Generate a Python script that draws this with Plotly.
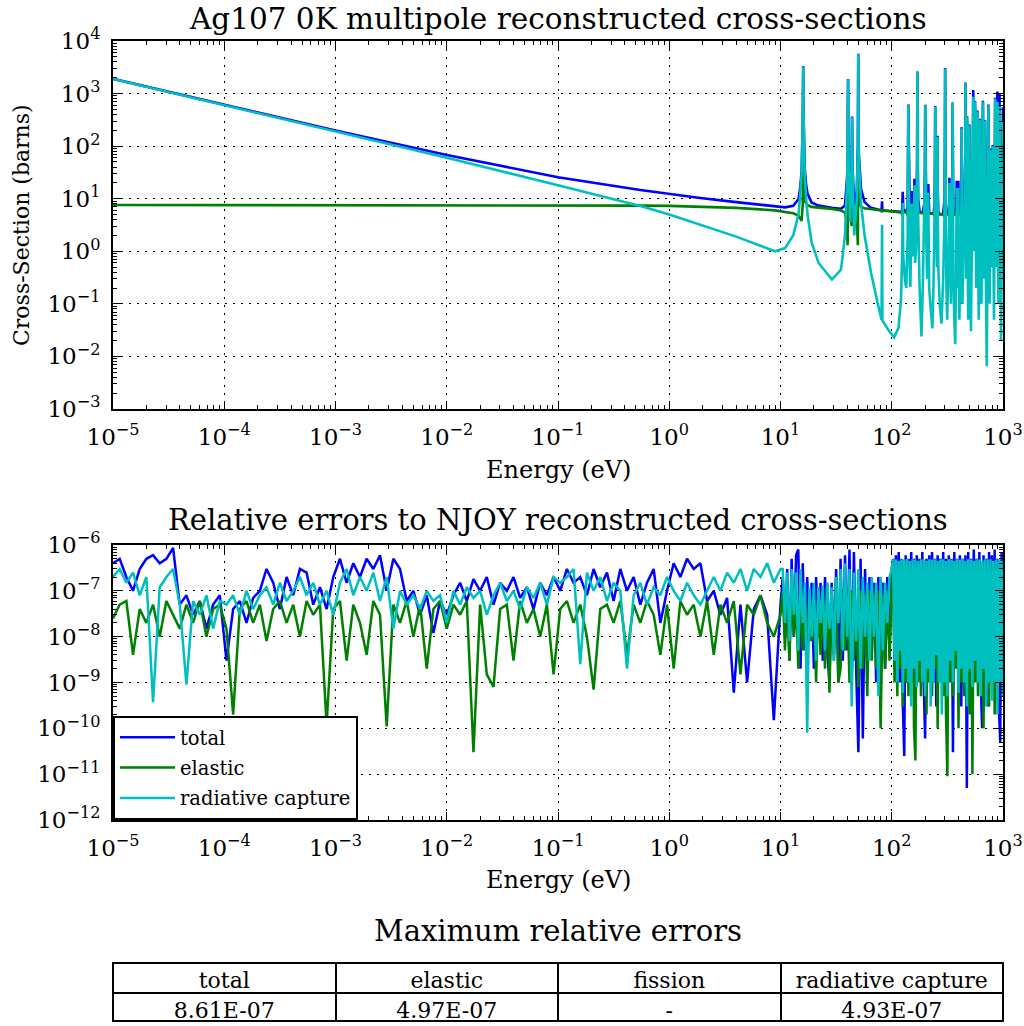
import plotly.graph_objects as go

# ---------------- data: top panel (cross-sections, barns) ----------------
E_TOP = [
    1e-5, 1e-4, 1e-3, 1e-2, 0.1, 0.55, 1.0, 1.9, 4.0, 8.9,
    11, 13, 14.5, 15.0, 15.5, 15.85, 16.0, 16.15, 16.5, 17.0,
    17.5, 19, 22, 29, 35, 38, 39.8, 40.1, 40.5, 40.75,
    41, 42.3, 43.6, 44, 44.5, 46, 48.5, 49.6, 50, 50.25,
    50.6, 53, 57, 65, 75, 81, 81.8, 82.4, 95, 105,
    115, 121, 124, 125.5, 127, 131, 135, 139, 141, 143,
    145, 147, 150, 151, 152.5, 155, 157, 159, 160, 161,
    162, 165, 167, 169, 170, 171, 173, 178, 185, 190,
    196, 198.5, 200, 201.5, 204, 208, 211, 213, 215, 217,
    224, 232, 238, 243, 245, 246, 247, 249, 252, 255,
    257, 258, 259, 262, 270, 280, 290, 298, 300.5, 302,
    303.5, 306, 310, 315, 323, 328, 330, 332, 340, 346,
    350, 352, 353, 354, 358, 365, 372, 379, 384, 387,
    390, 394, 397, 400, 405, 412, 420, 423.5, 425, 426.5,
    432, 440, 446, 450, 458, 460, 462, 467, 471, 475,
    479, 487, 494, 500, 505, 510, 515, 522, 528, 532,
    537, 540, 543, 550, 555, 560, 565, 575, 582, 590,
    597, 605, 612, 620, 628, 640, 650, 660, 668, 675,
    682, 690, 700, 715, 728, 740, 750, 758, 767, 775,
    782, 790, 800, 810, 820, 830, 840, 850, 860, 870,
    880, 890, 900, 910, 920, 930, 945, 960, 980, 1000]

CAPTURE = [
    1900, 600, 190, 60, 18, 7.3, 5.0, 3.2, 1.9, 1.0,
    1.15, 2.0, 5, 11, 30, 300, 3200, 300, 30, 10,
    5, 1.5, 0.6, 0.29, 0.45, 2, 25, 200, 1870, 150,
    40, 3.6, 40, 355, 30, 2.0, 10, 100, 5600, 400,
    60, 8, 2, 0.4, 0.1, 0.05, 3.2, 0.048, 0.03, 0.023,
    0.035, 0.12, 0.8, 8.3, 0.8, 0.3, 0.2, 2, 600, 2,
    0.5, 0.21, 2, 8, 1.5, 0.8, 1, 4, 18, 3,
    0.6, 1, 4, 40, 2600, 40, 4, 0.2, 0.024, 0.2,
    3, 30, 600, 30, 2, 0.3, 2, 13, 1.5, 0.2,
    0.08, 0.034, 0.3, 3, 30, 560, 30, 1, 2, 0.5,
    10, 150, 10, 0.5, 0.1, 0.042, 0.3, 5, 80, 3000,
    80, 1, 0.2, 0.05, 0.5, 3, 20, 2, 0.1, 1,
    5, 60, 660, 60, 0.3, 0.05, 0.017, 0.5, 16, 1,
    0.2, 1.5, 16, 0.8, 0.05, 0.3, 1, 15, 220, 15,
    0.1, 0.5, 1, 5, 60, 1600, 60, 0.3, 3, 360,
    2, 0.05, 2, 250, 1.5, 0.2, 0.03, 0.5, 5, 4,
    30, 870, 30, 1, 10, 700, 8, 0.2, 3, 460,
    2, 0.05, 1, 320, 1, 0.1, 5, 700, 3, 0.3,
    5, 300, 0.5, 0.0065, 3, 600, 2, 0.1, 2, 85,
    1, 0.5, 3, 100, 1, 0.05, 5, 800, 3, 0.5,
    10, 700, 2, 0.1, 5, 560, 2, 0.02, 3, 300]

ELASTIC = [
    7.6, 7.6, 7.6, 7.6, 7.5, 7.4, 7.3, 7.1, 6.7, 6.0,
    5.7, 5.3, 4.8, 4.3, 3.8, 8, 60, 30, 9, 8,
    7.5, 7, 6.8, 6.4, 6.0, 5.4, 3, 1.3, 20, 10,
    8, 6.5, 3, 10, 6, 5.5, 4, 1.3, 100, 30,
    9, 7, 6.6, 6.3, 6.1, 6.0, 5.5, 6.0, 5.8, 5.7,
    5.6, 5.5, 5.0, 5.2, 5.5, 5.5, 5.5, 5.0, 20, 5.5,
    5.5, 5.5, 5.3, 6, 5.3, 5.3, 5.3, 5.5, 6, 5.5,
    5.3, 5.0, 5.0, 6, 30, 6, 5.5, 5.4, 5.4, 5.3,
    5.0, 6, 15, 6, 5.3, 5.3, 5.5, 6, 5.5, 5.2,
    5.2, 5.2, 5.0, 4.8, 6, 20, 6, 5.2, 5.0, 5.0,
    5.5, 8, 5.5, 5.0, 5.0, 5.0, 5.0, 4.5, 10, 60,
    10, 5.0, 5.0, 5.0, 5.0, 5.0, 5.0, 5.0, 5.0, 5.0,
    4.5, 8, 15, 8, 5.0, 5.0, 5.0, 5.0, 5.5, 5.0,
    5.0, 5.0, 5.5, 5.0, 5.0, 5.0, 5.0, 6, 8, 6,
    5.0, 5.0, 5.0, 4.5, 8, 25, 8, 5.0, 5.0, 10,
    5.0, 5.0, 5.0, 8, 5.0, 5.0, 5.0, 5.0, 5.0, 4.5,
    20, 300, 20, 5.0, 5.0, 20, 5.0, 5.0, 5.0, 15,
    5.0, 5.0, 5.0, 10, 5.0, 5.0, 5.0, 30, 5.0, 5.0,
    5.0, 10, 5.0, 5.0, 5.0, 20, 5.0, 5.0, 5.0, 5,
    5.0, 5.0, 5.0, 5, 5.0, 5.0, 5.0, 30, 5.0, 5.0,
    5.0, 400, 5.0, 5.0, 5.0, 450, 5.0, 5.0, 5.0, 250]

TOTAL = [
    1908, 608, 198, 68, 25.5, 14.7, 12.3, 10.3, 8.6, 7.0,
    6.85, 7.3, 9.8, 15.3, 34, 308, 3300, 330, 39, 18,
    12.5, 8.5, 7.4, 6.7, 6.45, 7.4, 28, 201, 1890, 160,
    48, 10.1, 43, 365, 36, 7.5, 14, 101, 5700, 430,
    69, 15, 8.6, 6.7, 6.2, 6.05, 8.9, 6.05, 5.83, 5.72,
    5.64, 5.62, 5.8, 13.5, 6.3, 5.8, 5.7, 7, 620, 7.5,
    6, 5.7, 7.3, 14, 6.8, 6.1, 6.3, 9.5, 24, 8.5,
    5.9, 6, 9, 46, 2630, 46, 9.5, 5.6, 5.42, 5.5,
    8, 36, 615, 36, 7.3, 5.6, 7.5, 19, 7, 5.4,
    5.28, 5.23, 5.3, 7.8, 36, 580, 36, 6.2, 7, 5.5,
    15.5, 158, 15.5, 5.5, 5.1, 5.04, 5.3, 9.5, 90, 3060,
    90, 6, 5.2, 5.05, 5.5, 8, 25, 7, 5.1, 6,
    9.5, 68, 675, 68, 5.3, 5.05, 5.02, 5.5, 22, 6,
    5.2, 6.5, 22, 5.8, 5.05, 5.3, 6, 21, 228, 21,
    5.1, 5.5, 6, 9.5, 68, 1625, 68, 5.3, 8, 370,
    7, 5.05, 7, 258, 6.5, 5.2, 5.03, 5.5, 10, 8.5,
    50, 1170, 50, 6, 15, 720, 13, 5.2, 8, 475,
    7, 5.05, 6, 330, 6, 5.1, 10, 730, 8, 5.3,
    10, 310, 5.5, 5.0, 8, 620, 7, 5.1, 7, 90,
    6, 5.5, 8, 105, 6, 5.05, 10, 830, 8, 5.5,
    15, 1100, 7, 5.1, 10, 1010, 7, 5.02, 8, 550]

# ---------------- data: middle panel (relative errors) ----------------
ERR_LOG_E = [
    -5.00, -4.94, -4.88, -4.82, -4.76, -4.70, -4.64, -4.58, -4.52, -4.46,
    -4.40, -4.34, -4.28, -4.22, -4.16, -4.10, -4.04, -3.98, -3.92, -3.86,
    -3.80, -3.74, -3.68, -3.62, -3.56, -3.50, -3.44, -3.38, -3.32, -3.26,
    -3.20, -3.14, -3.08, -3.02, -2.96, -2.90, -2.84, -2.78, -2.72, -2.66,
    -2.60, -2.54, -2.48, -2.42, -2.36, -2.30, -2.24, -2.18, -2.12, -2.06,
    -2.00, -1.94, -1.88, -1.82, -1.76, -1.70, -1.64, -1.58, -1.52, -1.46,
    -1.40, -1.34, -1.28, -1.22, -1.16, -1.10, -1.04, -0.98, -0.92, -0.86,
    -0.80, -0.74, -0.68, -0.62, -0.56, -0.50, -0.44, -0.38, -0.32, -0.26,
    -0.20, -0.14, -0.08, -0.02, 0.04, 0.10, 0.16, 0.22, 0.28, 0.34,
    0.40, 0.46, 0.52, 0.58, 0.64, 0.70, 0.76, 0.82, 0.88, 0.94,
    1.00,
    1.02, 1.04, 1.06, 1.08, 1.10, 1.12, 1.14, 1.16, 1.18, 1.20,
    1.22, 1.24, 1.26, 1.28, 1.30, 1.32, 1.34, 1.36, 1.38, 1.40,
    1.42, 1.44, 1.46, 1.48, 1.50, 1.52, 1.54, 1.56, 1.58, 1.60,
    1.62, 1.64, 1.66, 1.68, 1.70, 1.72, 1.74, 1.76, 1.78, 1.80,
    1.82, 1.84, 1.86, 1.88, 1.90, 1.92, 1.94, 1.96, 1.98, 2.00,
    2.0125, 2.025, 2.0375, 2.05, 2.0625, 2.075, 2.0875, 2.10, 2.1125, 2.125,
    2.1375, 2.15, 2.1625, 2.175, 2.1875, 2.20, 2.2125, 2.225, 2.2375, 2.25,
    2.2625, 2.275, 2.2875, 2.30, 2.3125, 2.325, 2.3375, 2.35, 2.3625, 2.375,
    2.3875, 2.40, 2.4125, 2.425, 2.4375, 2.45, 2.4625, 2.475, 2.4875, 2.50,
    2.5125, 2.525, 2.5375, 2.55, 2.5625, 2.575, 2.5875, 2.60, 2.6125, 2.625,
    2.6375, 2.65, 2.6625, 2.675, 2.6875, 2.70, 2.7125, 2.725, 2.7375, 2.75,
    2.7625, 2.775, 2.7875, 2.80, 2.8125, 2.825, 2.8375, 2.85, 2.8625, 2.875,
    2.8875, 2.90, 2.9125, 2.925, 2.9375, 2.95, 2.9625, 2.975, 2.9875, 3.00]

ERR_TOTAL = [
    4e-7, 5e-7, 2e-7, 1e-7, 3e-7, 5e-7, 6e-7, 4e-7, 5e-7, 8.61e-7,
    5e-8, 8e-8, 3e-8, 6e-8, 1.5e-8, 5e-8, 8e-8, 3e-9, 4e-8, 6e-8,
    2e-8, 7e-8, 1e-7, 3e-7, 1.5e-7, 4e-8, 2e-7, 8e-8, 3e-7, 2.5e-7,
    5e-8, 1.2e-7, 4e-8, 2e-7, 5e-7, 1.5e-7, 4e-7, 2e-7, 5e-7, 3e-7,
    6e-7, 1e-7, 5e-7, 3e-7, 6e-8, 1e-7, 3e-8, 8e-8, 1.2e-8, 6e-8,
    3e-8, 8e-8, 1.5e-7, 6e-8, 1.8e-7, 1e-7, 2e-7, 5e-8, 1.5e-7, 1e-7,
    2e-7, 7e-8, 1.2e-7, 4e-8, 1.5e-7, 8e-8, 2e-7, 1e-7, 3e-7, 1.5e-7,
    2e-7, 8e-8, 3e-7, 1.2e-7, 2.5e-7, 6e-8, 3e-7, 1e-7, 2e-7, 5e-8,
    1.5e-7, 3e-7, 2e-8, 1e-7, 4e-7, 2e-7, 5e-7, 3e-7, 4e-7, 6e-8,
    1e-7, 3e-8, 7e-8, 6e-10, 5e-8, 1e-9, 4e-8, 8e-8, 3e-8, 1.5e-10,
    5e-8,
    2e-7, 1e-8, 3e-7, 3e-9, 5e-7, 1e-8, 6e-7, 8e-7, 2e-9, 4e-7,
    5e-9, 2e-7, 8e-9, 1.5e-7, 2e-9, 2e-7, 1e-8, 1.5e-7, 3e-9, 2e-7,
    5e-9, 1e-9, 1.5e-7, 4e-9, 3e-7, 1e-9, 5e-7, 3e-9, 6e-7, 5e-9,
    8e-7, 1e-9, 7e-7, 2e-9, 3e-11, 5e-7, 6e-11, 3e-7, 2e-9, 2e-7,
    5e-9, 1.5e-7, 1e-9, 2e-7, 3e-9, 1.5e-7, 2e-9, 2e-7, 5e-9, 3e-7,
    5e-7, 2e-9, 6e-7, 5e-9, 7e-7, 1e-9, 5e-7, 3e-10, 2.5e-11, 6e-7,
    2e-9, 5e-7, 5e-9, 7e-7, 1e-9, 5e-7, 3e-10, 6e-7, 2e-9, 5e-7,
    5e-9, 7e-7, 1e-9, 6e-11, 5e-7, 2e-9, 6e-7, 5e-9, 7e-7, 1e-9,
    5e-7, 3e-10, 6e-7, 2e-9, 5e-7, 4e-9, 7e-7, 1e-9, 5e-7, 3e-10,
    6e-7, 2e-9, 5e-7, 3e-11, 7e-7, 4e-9, 5e-7, 1e-9, 6e-7, 3e-10,
    5e-7, 2e-9, 6e-7, 5e-12, 7e-7, 1e-9, 5e-7, 3e-10, 8e-7, 2e-9,
    5e-7, 4e-9, 7e-7, 1e-9, 1e-10, 6e-7, 2e-9, 5e-7, 3e-10, 7e-7,
    1e-9, 6e-7, 4e-9, 8e-7, 2e-9, 5e-7, 3e-10, 5e-11, 7e-7, 1e-9]

ERR_ELASTIC = [
    2.5e-8, 5e-8, 6e-8, 4e-9, 4e-8, 2e-8, 5e-8, 1e-8, 6e-8, 3e-8,
    1.5e-8, 5e-8, 2e-8, 6e-8, 1e-8, 4e-8, 5e-8, 1.5e-8, 2e-10, 4e-8,
    6e-8, 2e-8, 5e-8, 8e-9, 4e-8, 6e-8, 2e-8, 5e-8, 1e-8, 6e-8,
    3e-8, 5e-8, 1.2e-10, 4e-8, 6e-8, 3e-9, 5e-8, 2e-8, 4e-9, 6e-8,
    3e-8, 1.1e-10, 5e-8, 2e-8, 6e-8, 1e-8, 5e-8, 2e-9, 4e-8, 6e-8,
    1.5e-8, 5e-8, 3e-8, 6e-8, 3e-11, 5e-8, 1.5e-9, 8e-10, 4e-8, 5e-8,
    3e-9, 6e-8, 2e-8, 4e-8, 1e-8, 5e-8, 1.5e-9, 4e-8, 6e-8, 2e-8,
    5e-8, 1e-8, 7e-10, 4e-8, 5e-8, 2e-8, 6e-8, 4e-9, 5e-8, 2e-8,
    6e-8, 3e-8, 4e-9, 5e-8, 2e-9, 6e-8, 3e-8, 5e-8, 1e-8, 6e-8,
    4e-9, 5e-8, 2e-8, 6e-8, 1.5e-9, 5e-8, 3e-8, 8e-8, 2e-8, 1e-8,
    3e-8,
    1e-7, 5e-9, 8e-8, 3e-9, 1.2e-7, 1e-8, 6e-8, 2e-9, 1e-7, 5e-9,
    8e-8, 2e-9, 1e-7, 8e-9, 6e-8, 1e-9, 1e-7, 4e-9, 8e-8, 2e-9,
    1.5e-7, 6e-10, 1e-7, 3e-9, 2e-7, 1e-9, 2e-9, 1e-7, 5e-9, 8e-8,
    1e-9, 1e-7, 3e-9, 6e-8, 8e-10, 1e-7, 2e-9, 8e-8, 5e-10, 1e-7,
    3e-9, 8e-8, 2e-9, 1e-7, 1e-10, 8e-8, 2e-9, 1e-7, 3e-9, 1.5e-7,
    3e-7, 1e-9, 4e-7, 5e-10, 3e-7, 2e-9, 4e-7, 3e-10, 3e-7, 1e-9,
    4.97e-7, 5e-10, 3e-7, 2e-9, 4e-7, 1e-10, 2e-11, 3e-7, 1e-9, 4e-7,
    5e-10, 3e-7, 2e-9, 4e-7, 2e-10, 3e-7, 1e-9, 4e-7, 5e-10, 3e-7,
    2e-9, 4e-7, 1e-10, 3e-7, 1e-9, 4e-7, 5e-10, 3e-7, 2e-10, 9e-12,
    4e-7, 1e-9, 3e-7, 5e-10, 4e-7, 2e-9, 3e-7, 1e-10, 4e-7, 1e-9,
    3e-7, 5e-10, 4e-7, 2e-9, 3e-7, 2e-10, 4e-7, 1e-11, 3e-7, 1e-9,
    4e-7, 5e-10, 3e-7, 2e-9, 4e-7, 1e-10, 3e-7, 1e-9, 4e-7, 3e-10,
    3e-7, 1e-9, 4e-7, 2e-10, 3e-7, 8e-10, 4e-7, 1e-9, 3e-7, 6e-10]

ERR_CAPTURE = [
    2e-7, 3e-7, 1.5e-7, 2.5e-7, 8e-8, 2e-7, 3.7e-10, 1.2e-7, 2e-7, 3e-7,
    5e-8, 9e-10, 6e-8, 3e-8, 8e-8, 1.5e-8, 6e-8, 5e-8, 8e-8, 3e-8,
    1e-7, 4e-8, 8e-8, 1.2e-7, 5e-8, 1.5e-7, 6e-8, 1e-7, 2e-7, 8e-8,
    1.5e-7, 5e-8, 1e-7, 3e-8, 1.5e-7, 3e-7, 8e-8, 2e-7, 1e-7, 2.5e-7,
    6e-8, 2e-7, 1.5e-8, 1e-7, 5e-8, 8e-8, 4e-8, 1e-7, 6e-8, 8e-8,
    2e-8, 1e-7, 5e-8, 1.2e-7, 7e-8, 1e-7, 3e-8, 8e-8, 1.5e-7, 6e-8,
    1e-7, 4e-8, 1.2e-7, 7e-8, 1.5e-7, 5e-8, 2e-7, 1.5e-7, 2e-7, 3e-7,
    2.5e-9, 2.5e-7, 1e-7, 2e-7, 6e-8, 1.5e-7, 1e-7, 2e-9, 8e-8, 1.5e-7,
    5e-8, 1.2e-7, 8e-8, 2e-7, 1e-7, 6e-8, 1.5e-7, 8e-8, 5e-8, 1e-7,
    2e-7, 1e-7, 2.5e-7, 1.5e-7, 3e-7, 1e-7, 3e-7, 2e-7, 4e-7, 1.5e-7,
    3e-7,
    3e-7, 2e-8, 2.5e-7, 8e-9, 3e-7, 3e-8, 2.5e-7, 5e-9, 3e-7, 2e-8,
    1.5e-7, 8e-11, 1.2e-7, 1e-8, 1.5e-7, 3e-9, 1.2e-7, 2e-8, 1.3e-7, 5e-9,
    1.5e-7, 1.5e-8, 1.2e-7, 3e-9, 2e-7, 2e-8, 3e-7, 5e-9, 4e-7, 1e-8,
    3e-7, 3e-10, 2.5e-7, 8e-9, 3e-7, 2e-9, 2e-7, 1e-8, 1.5e-7, 3e-9,
    2e-7, 1e-8, 1.5e-7, 5e-10, 2e-7, 5e-9, 1.5e-7, 2e-8, 2e-7, 3e-7,
    4.9e-7, 3e-9, 4.8e-7, 1e-9, 4.5e-7, 5e-9, 4.9e-7, 6e-10, 4.8e-7, 2e-9,
    4.93e-7, 1e-9, 4.5e-7, 3e-10, 4.9e-7, 2e-9, 4.8e-7, 8e-10, 4.5e-7, 3e-9,
    4.9e-7, 1e-9, 4.8e-7, 5e-10, 4.5e-7, 2e-9, 4.9e-7, 3e-10, 4.8e-7, 1e-9,
    4.9e-7, 4e-9, 4.5e-7, 1e-9, 4.8e-7, 2e-10, 4.9e-7, 1e-9, 4.5e-7, 5e-10,
    4.9e-7, 3e-9, 4.8e-7, 1e-9, 4.5e-7, 5e-9, 4.9e-7, 6e-10, 4.8e-7, 2e-9,
    4.9e-7, 1e-9, 4.5e-7, 3e-10, 4.9e-7, 2e-9, 4.8e-7, 8e-10, 4.5e-7, 3e-9,
    4.9e-7, 1e-9, 4.8e-7, 5e-10, 4.5e-7, 2e-9, 4.9e-7, 3e-10, 4.8e-7, 1e-9,
    4.9e-7, 4e-10, 4.5e-7, 1e-9, 4.8e-7, 2e-10, 4.9e-7, 1e-9, 4.5e-7, 5e-10]

# ---------------- data: table ----------------
TABLE_HEADER = ["total", "elastic", "fission", "radiative capture"]
TABLE_VALUES = ["8.61E-07", "4.97E-07", "-", "4.93E-07"]

SERIES_NAMES = ["total", "elastic", "radiative capture"]
COLORS = ["#0000ff", "#008000", "#00bfbf"]

assert len(CAPTURE) == len(E_TOP) == len(ELASTIC) == len(TOTAL), (len(E_TOP), len(CAPTURE), len(ELASTIC), len(TOTAL))
assert len(ERR_LOG_E) == len(ERR_TOTAL) == len(ERR_ELASTIC) == len(ERR_CAPTURE), (
    len(ERR_LOG_E), len(ERR_TOTAL), len(ERR_ELASTIC), len(ERR_CAPTURE))

# ---------------- layout helpers ----------------
W, H = 1024, 1026
FONT = "DejaVu Serif"


def px_x(p):
    return p / W


def px_y(p):
    return 1 - p / H


X_DOM = [px_x(113), px_x(1003)]
TOP_DOM = [px_y(409), px_y(41)]
MID_DOM = [px_y(820), px_y(545)]


def pow_label(k):
    return "10<sup>" + ("\u2212" + str(-k) if k < 0 else str(k)) + "</sup>"


def log_axis(lo, hi, domain, anchor, **kw):
    major = [10.0 ** k for k in range(lo, hi + 1)]
    minor = [m * 10.0 ** k for k in range(lo, hi) for m in range(2, 10)]
    d = dict(
        type="log", range=[lo, hi], domain=domain, anchor=anchor, automargin=False,
        tickmode="array", tickvals=major, ticktext=[pow_label(k) for k in range(lo, hi + 1)],
        ticks="inside", ticklen=8, tickwidth=1.2, tickcolor="black",
        showline=True, linecolor="black", linewidth=2, mirror="allticks",
        showgrid=True, gridcolor="black", gridwidth=1.2, griddash="2px,6px",
        zeroline=False,
        minor=dict(tickmode="array", tickvals=minor, ticks="inside", ticklen=4,
                   tickwidth=1, tickcolor="black", showgrid=False),
        tickfont=dict(family=FONT, size=23, color="black"),
        ticklabelstandoff=6,
    )
    d.update(kw)
    return d


fig = go.Figure()

# top panel
for name, ys, col in zip(SERIES_NAMES, [TOTAL, ELASTIC, CAPTURE], COLORS):
    fig.add_trace(go.Scatter(x=E_TOP, y=ys, mode="lines", name=name,
                             line=dict(color=col, width=2.6),
                             showlegend=False, xaxis="x", yaxis="y"))

# middle panel
err_E = [10.0 ** v for v in ERR_LOG_E]
for name, ys, col in zip(SERIES_NAMES, [ERR_TOTAL, ERR_ELASTIC, ERR_CAPTURE], COLORS):
    fig.add_trace(go.Scatter(x=err_E, y=ys, mode="lines", name=name, legendgroup=name,
                             line=dict(color=col, width=2.5),
                             showlegend=True, xaxis="x2", yaxis="y2"))

# table
fig.add_trace(go.Table(
    domain=dict(x=[px_x(113), px_x(1003)], y=[0, px_y(963)]),
    columnwidth=[1, 1, 1, 1],
    header=dict(values=TABLE_HEADER, align="center", height=30,
                line=dict(color="black", width=2), fill=dict(color="white"),
                font=dict(family=FONT, size=22, color="black")),
    cells=dict(values=[[v] for v in TABLE_VALUES], align="center", height=28,
               line=dict(color="black", width=2), fill=dict(color="white"),
               font=dict(family=FONT, size=22, color="black")),
))

ann_font = dict(family=FONT, color="black")
annotations = [
    dict(text="Ag107 0K multipole reconstructed cross-sections", x=px_x(558), y=px_y(19),
         font=dict(size=29.5, **ann_font)),
    dict(text="Energy (eV)", x=px_x(558), y=px_y(470), font=dict(size=24, **ann_font)),
    dict(text="Cross-Section (barns)", x=px_x(21), y=px_y(225), textangle=-90,
         font=dict(size=22, **ann_font)),
    dict(text="Relative errors to NJOY reconstructed cross-sections", x=px_x(558), y=px_y(520),
         font=dict(size=29, **ann_font)),
    dict(text="Energy (eV)", x=px_x(558), y=px_y(880), font=dict(size=24, **ann_font)),
    dict(text="Maximum relative errors", x=px_x(558), y=px_y(931), font=dict(size=29, **ann_font)),
]
for a in annotations:
    a.update(xref="paper", yref="paper", showarrow=False, xanchor="center", yanchor="middle")

fig.update_layout(
    width=W, height=H, margin=dict(l=0, r=0, t=0, b=0),
    paper_bgcolor="white", plot_bgcolor="white",
    font=dict(family=FONT, color="black"),
    xaxis=log_axis(-5, 3, X_DOM, "y"),
    yaxis=log_axis(-3, 4, TOP_DOM, "x"),
    xaxis2=log_axis(-5, 3, X_DOM, "y2"),
    yaxis2=log_axis(-12, -6, MID_DOM, "x2"),
    legend=dict(x=px_x(113), y=px_y(820), xanchor="left", yanchor="bottom",
                bordercolor="black", borderwidth=2, bgcolor="white", itemwidth=55,
                font=dict(family=FONT, size=19.5, color="black"), tracegroupgap=2),
    annotations=annotations,
    showlegend=True,
)

fig.write_html("out.html", config={"displayModeBar": False},
               post_script="document.body.style.margin='0';document.body.style.overflow='hidden';")
